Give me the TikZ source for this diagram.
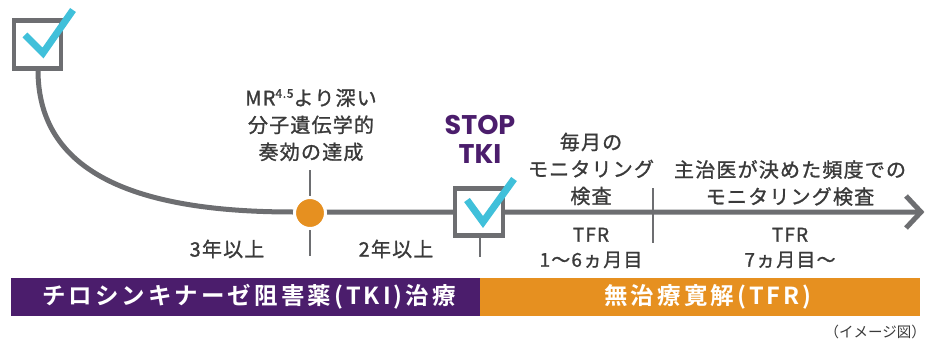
\documentclass[tikz,border=0pt]{standalone}
\usepackage{fontspec}
\setmainfont{Noto Sans CJK JP}
\newfontfamily\lblfont[LetterSpace=6,FakeBold=1.2]{Noto Sans CJK JP}
\newfontfamily\barfont[LetterSpace=13]{Noto Sans CJK JP Bold}
\newfontfamily\stopfont{Poppins}
\definecolor{lgray}{HTML}{6D6E71}
\definecolor{cblue}{HTML}{40C0DA}
\definecolor{corange}{HTML}{E69020}
\definecolor{cpurple}{HTML}{4B1D6C}
\definecolor{ctext}{HTML}{3A3A3A}
\begin{document}
\begin{tikzpicture}[x=1pt,y=-1pt,
  lbl/.style={text=ctext,font=\lblfont\fontsize{20}{27}\selectfont,align=center,inner sep=0pt},
  barlbl/.style={text=white,font=\barfont\fontsize{23.5}{25}\selectfont,inner sep=0pt},
  boxst/.style={draw=lgray,line width=4.5pt,fill=white},
  checkst/.style={draw=cblue,line width=7pt},
  mainline/.style={draw=lgray,line width=5pt},
  thinline/.style={draw=lgray,line width=1.3pt}]
\useasboundingbox (0,0) rectangle (928,342);
% bars
\fill[cpurple] (11,278) rectangle (480,316);
\fill[corange] (480,278) rectangle (920,316);
\node[barlbl] (bar1) at (249,297) {チロシンキナーゼ阻害薬(TKI)治療};
\node[barlbl] (bar2) at (708,297) {無治療寛解(TFR)};
% coordinates
\coordinate (c1) at (38,70);
\coordinate (lineA) at (293,212);
\coordinate (tip) at (921,212);
% main line
\draw[mainline] (c1) .. controls (38,170) and (130,212) .. (lineA) -- (tip);
\draw[lgray,line width=5pt,line join=miter] (906,196) -- (tip) -- (906,228);
% thin lines
\coordinate (v1t) at (310,170); \coordinate (v1b) at (310,256);
\draw[thinline] (v1t) -- (v1b);
\coordinate (v2t) at (480,238); \coordinate (v2b) at (480,257);
\draw[thinline] (v2t) -- (v2b);
\coordinate (v3t) at (653,188); \coordinate (v3b) at (653,243);
\draw[thinline] (v3t) -- (v3b);
% dot
\node[circle,fill=corange,draw=white,line width=3pt,minimum size=31pt,inner sep=0pt] (dot) at (310,213) {};
% first box
\node[boxst,minimum width=47pt,minimum height=48pt,inner sep=0pt] (box1) at (37.5,44.5) {};
\coordinate (k1a) at (25,35); \coordinate (k1b) at (43,53); \coordinate (k1c) at (73,10);
\draw[checkst] (k1a) -- (k1b) -- (k1c);
% second box
\node[boxst,minimum width=48pt,minimum height=47pt,inner sep=0pt] (box2) at (479,212) {};
\coordinate (k2a) at (467,200); \coordinate (k2b) at (483,222); \coordinate (k2c) at (514,179);
\draw[checkst] (k2a) -- (k2b) -- (k2c);
% texts
\node[lbl] (mr) at (311,125) {MR\raisebox{0.7ex}{\fontsize{12}{12}\selectfont 4.5}より深い\\分子遺伝学的\\奏効の達成};
\node[text=cpurple,font=\stopfont\bfseries\fontsize{27}{29}\selectfont,align=center,inner sep=0pt] (stop) at (480,139) {STOP\\TKI};
\node[lbl] (m1) at (591,169) {毎月の\\モニタリング\\検査};
\node[lbl] (m2) at (790,183) {主治医が決めた頻度での\\モニタリング検査};
\node[lbl] (y3) at (227,249) {3年以上};
\node[lbl] (y2) at (396,249) {2年以上};
\node[lbl,font=\lblfont\fontsize{19}{25}\selectfont] (t1) at (591,248) {TFR\\1〜6ヵ月目};
\node[lbl,font=\lblfont\fontsize{19}{25}\selectfont] (t2) at (790,248) {TFR\\7ヵ月目〜};
\node[text=ctext,font=\fontsize{14.5}{16}\selectfont,anchor=east,inner sep=0pt] (img) at (926,332) {（イメージ図）};
\end{tikzpicture}
\end{document}
